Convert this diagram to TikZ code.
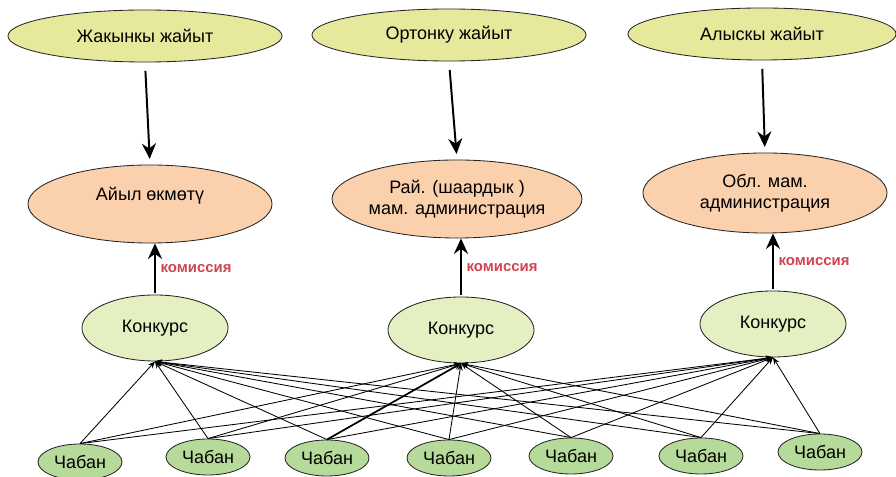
\documentclass[tikz,border=0pt]{standalone}
\usepackage{fontspec}
\setmainfont{Liberation Sans}
\usetikzlibrary{shapes.geometric, arrows.meta, positioning}
\definecolor{distyellow}{HTML}{E6E99C}
\definecolor{adminorange}{HTML}{FBD0AC}
\definecolor{contestgreen}{HTML}{E4EFC2}
\definecolor{shepgreen}{HTML}{B6DA9A}
\definecolor{comred}{HTML}{D0434F}

\begin{document}
\begin{tikzpicture}[x=0.025cm, y=-0.025cm,
    oval/.style={ellipse, draw=black!85, line width=0.6pt, inner sep=0pt,
      align=center, font=\fontsize{12.8}{15}\selectfont},
    pasture/.style={oval, fill=distyellow, minimum width=6.85cm, minimum height=1.3cm},
    admin/.style={oval, fill=adminorange, minimum width=6.1cm, minimum height=1.95cm},
    contest/.style={oval, fill=contestgreen, minimum width=3.65cm, minimum height=1.65cm},
    shepherd/.style={oval, fill=shepgreen, minimum width=2.1cm, minimum height=0.9cm},
    bigarrow/.style={-{Stealth[length=11pt, width=10pt]}, line width=1.4pt},
    smallarrow/.style={-{Stealth[length=5pt, width=4pt]}, line width=0.6pt},
    comlabel/.style={right, text=comred, font=\fontsize{10.6}{12}\selectfont\bfseries}]
  \useasboundingbox (0,0) rectangle (896,477);

  % pastures
  \node[pasture] (ly1) at (145,36) {Жакынкы жайыт};
  \node[pasture] (ly2) at (449,35) {Ортонку жайыт};
  \node[pasture, minimum width=6.7cm] (ly3) at (762,34) {Алыскы жайыт};

  % administrations
  \node[admin] (or1) at (150,204) {Айыл өкмөтү\\ \mbox{}};
  \node[admin] (or2) at (457,199) {Рай. (шаардык )\\мам. администрация};
  \node[admin, minimum height=2cm] (or3) at (765,193) {Обл. мам.\\администрация};

  % contests
  \node[contest] (k1) at (155,328) {Конкурс};
  \node[contest] (k2) at (461,330) {Конкурс};
  \node[contest] (k3) at (773,324) {Конкурс};

  % shepherds
  \node[shepherd] (c1) at (80,462) {Чабан};
  \node[shepherd] (c2) at (208,457) {Чабан};
  \node[shepherd] (c3) at (327,458) {Чабан};
  \node[shepherd] (c4) at (449,458) {Чабан};
  \node[shepherd] (c5) at (571,456) {Чабан};
  \node[shepherd] (c6) at (701,456) {Чабан};
  \node[shepherd] (c7) at (820,452) {Чабан};

  % pasture -> administration
  \foreach \i in {1,2,3}
    \draw[bigarrow, shorten <=6pt, shorten >=4pt] (ly\i.south) -- (or\i.north);

  % contest -> administration
  \foreach \i in {1,2,3}
    \draw[bigarrow, shorten <=1pt] (k\i.north) -- (k\i.north |- or\i.south)
      node[comlabel, midway] {комиссия};

  % shepherds -> contests
  \foreach \c in {1,...,7}
    \foreach \k in {1,2,3}
      \draw[smallarrow] (c\c.north) -- (k\k.south);
  \draw[line width=1.2pt] (c3.north) -- (k2.south);
\end{tikzpicture}
\end{document}
